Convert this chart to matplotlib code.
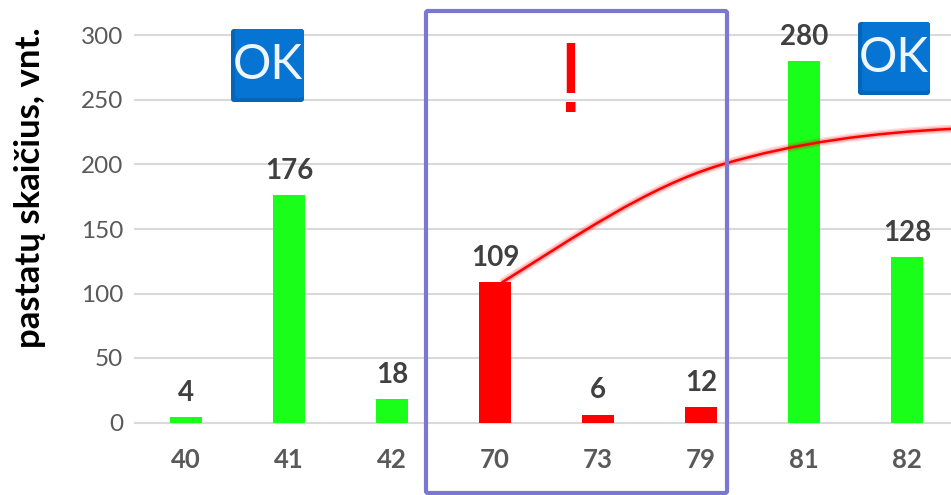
"""
Bar chart of building counts by class with a red trend curve,
a highlighted group and OK / ! markers.

Writes out.png next to the script.
"""

import matplotlib
matplotlib.use("Agg")
import matplotlib.pyplot as plt
from matplotlib.patches import FancyBboxPatch, PathPatch
from matplotlib.path import Path

plt.rcParams["font.family"] = ["Lato", "Noto Sans", "DejaVu Sans"]

# -------- Data --------
CATEGORIES = ["40", "41", "42", "70", "73", "79", "81", "82"]
COUNTS = [4, 176, 18, 109, 6, 12, 280, 128]
BAR_COLORS = ["#19FF19", "#19FF19", "#19FF19", "#FF0000",
              "#FF0000", "#FF0000", "#19FF19", "#19FF19"]
Y_TICKS = [0, 50, 100, 150, 200, 250, 300]
Y_LABEL = "pastatų skaičius, vnt."

# trend curve as two bezier segments (category position, value)
CURVE_X = [3.065, 3.771, 4.478, 5.184, 5.933, 6.681, 7.43]
CURVE_Y = [108.4, 143.7, 182.5, 199.5, 217.5, 224.6, 227.6]

W, H = 951, 495
GRID = "#D9D9D9"
TICK_COLOR = "#595959"
LABEL_COLOR = "#404040"
BLUE = "#0574D2"
BLUE_DARK = "#0565B8"
FRAME = "#7B78D3"


def add_box(fig, x0, y0, x1, y1, radius=2, zorder=5, **kw):
    # pixel box, y measured from the top of the picture
    patch = FancyBboxPatch((x0 / 100, (H - y1) / 100), (x1 - x0) / 100, (y1 - y0) / 100,
                           boxstyle=f"round,pad=0,rounding_size={radius / 100}",
                           transform=fig.dpi_scale_trans, zorder=zorder, **kw)
    fig.add_artist(patch)


def add_badge(fig, x0, y0, x1, y1):
    add_box(fig, x0, y0, x1, y1, radius=3, fc=BLUE_DARK, ec="none")
    add_box(fig, x0 + 4, y0, x1, y1 - 4, radius=3, fc=BLUE, ec="none")
    fig.text((x0 + x1) / 2 / W, 1 - ((y0 + y1) / 2 - 1) / H, "OK", color="#EEF6FC", fontsize=34.5,
             ha="center", va="center", zorder=6)


def curve_patch(ax, **kw):
    codes = [Path.MOVETO] + [Path.CURVE4] * (len(CURVE_X) - 1)
    return ax.add_patch(PathPatch(Path(list(zip(CURVE_X, CURVE_Y)), codes), fill=False,
                                  capstyle="butt", **kw))


def main():
    fig = plt.figure(figsize=(W / 100, H / 100), dpi=100)
    ax = fig.add_axes([134.5 / W, (H - 422.5) / H, (W - 134.5) / W, 387 / H])

    positions = list(range(len(CATEGORIES)))
    bars = ax.bar(positions, COUNTS, width=0.32, color=BAR_COLORS, zorder=2)
    ax.set_xlim(-0.5, 7.427)
    ax.set_ylim(0, 300)

    ax.set_yticks(Y_TICKS)
    ax.set_xticks(positions, CATEGORIES)
    ax.grid(axis="y", color=GRID, linewidth=1.5, clip_on=False, zorder=1)
    ax.set_axisbelow(True)
    for s in ax.spines.values():
        s.set_visible(False)
    ax.tick_params(axis="y", length=0, pad=8, labelsize=17.5, labelcolor=TICK_COLOR)
    ax.tick_params(axis="x", length=0, pad=18, labelsize=18.5, labelcolor=TICK_COLOR)
    for t in ax.get_xticklabels():
        t.set_fontweight("bold")

    for bar, v in zip(bars, COUNTS):
        ax.annotate(str(v), (bar.get_x() + bar.get_width() / 2, v), xytext=(0, 17.5),
                    textcoords="offset points", ha="center", va="center",
                    fontsize=20, fontweight="bold", color=LABEL_COLOR)

    # soft glow under the trend line
    curve_patch(ax, ec="#FF0000", linewidth=6, alpha=0.15, zorder=3)
    curve_patch(ax, ec="#FF0000", linewidth=3.8, alpha=0.2, zorder=3)
    curve_patch(ax, ec="#FF0000", linewidth=1.8, zorder=4)

    fig.text(30 / W, 1 - 188 / H, Y_LABEL, rotation=90, ha="center", va="center",
             fontsize=25, fontweight="bold", color="black")

    # highlighted group
    add_box(fig, 426, 11, 727, 493, radius=2, zorder=4, fill=False, ec=FRAME, linewidth=3)
    fig.text(571 / W, 1 - 86 / H, "!", color="#FF0000", fontsize=72, family="Liberation Sans",
             ha="center", va="center", zorder=6)

    add_badge(fig, 231, 29, 304, 102)
    add_badge(fig, 858, 22, 930, 95)

    fig.savefig("out.png", dpi=100)
    plt.close(fig)


if __name__ == "__main__":
    main()
